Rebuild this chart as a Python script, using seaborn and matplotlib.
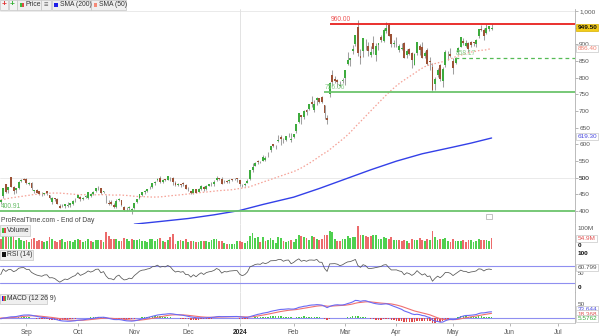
import numpy as np
import pandas as pd
import matplotlib
matplotlib.use("Agg")
import matplotlib.pyplot as plt
from matplotlib.patches import Rectangle
import seaborn as sns

sns.set_theme(style="white")
plt.rcParams['font.family'] = ['Liberation Sans', 'DejaVu Sans']

# ---------------- data ----------------
holidays = ["2023-09-04", "2023-11-23", "2023-12-25", "2024-01-01",
            "2024-01-15", "2024-02-19", "2024-03-29", "2024-05-27",
            "2024-06-19", "2024-07-04"]

# closes before the visible window (indicator warm-up)
prior_closes = [374.75, 385.10, 387.70, 394.82, 410.22, 429.97, 426.53, 426.92,
                435.96, 415.70, 430.25, 422.48, 406.32, 418.76, 411.17, 408.22, 423.02,
                424.13, 423.02, 421.80, 425.03, 421.80, 424.04, 439.02, 459.77, 454.69,
                464.61, 474.94, 470.77, 455.20, 443.09, 446.12, 456.79, 454.52, 459.00,
                467.50, 467.29,
                465.07, 442.69, 445.15, 446.80, 454.17, 446.64, 425.54, 423.88, 408.55,
                437.53, 439.40, 434.86]

opens = [426.3, 444.9, 482.0, 463.1, 502.2, 473.2, 464.5, 469.6, 491.5, 497.6,
         497.6, 482.7, 484.3, 460.9, 462.4, 459.6, 449.2, 450.4, 460.3, 447.4, 427.5, 438.3, 436.0, 415.8, 415.6, 414.2, 415.4, 419.3, 421.0, 436.0,
         440.3, 441.0, 437.4, 441.4, 438.5, 446.3, 451.2, 461.4, 469.6, 470.0, 457.2, 440.0, 425.9, 428.1, 418.9, 412.5, 434.5, 432.0, 411.1, 407.5, 409.0, 404.2,
         408.8, 428.3, 440.2, 448.6, 458.0, 461.2, 469.2, 471.4, 484.2, 494.0, 500.0, 488.8, 495.0, 494.3, 500.6, 498.8, 484.7, 478.0, 481.8, 483.9, 479.4,
         465.3, 460.8, 454.0, 465.0, 458.8, 465.9, 472.2, 467.0, 476.7, 483.0, 481.9, 494.0, 500.3, 495.7, 489.2, 491.8, 489.7, 495.1, 496.4, 498.1,
         492.4, 474.9, 477.7, 484.6, 495.1, 524.5, 536.2, 549.2, 546.2, 550.2, 554.0, 571.7, 583.3, 600.3, 597.5, 609.5, 623.5, 609.6, 612.3, 627.5, 614.4,
         621.0, 639.7, 668.7, 688.0, 683.2, 704.0, 705.3, 726.0, 704.0, 732.0, 738.7, 741.0, 719.5, 680.1, 750.3, 807.9, 797.0, 793.8, 776.2, 790.9,
         800.0, 841.3, 852.7, 880.2, 901.6, 951.4, 864.3, 880.5, 910.5, 895.8, 869.3, 903.9, 867.0, 897.9, 923.0, 911.4, 939.4, 958.5, 931.1, 900.0,
         903.0, 884.5, 884.8, 904.1, 868.6, 887.0, 874.0, 839.2, 874.2, 896.1, 890.9, 864.3, 883.4, 849.7, 831.5, 781.0, 807.7, 839.5, 788.7, 838.2, 875.9, 872.4,
         850.8, 844.5, 877.9, 893.5, 910.4, 894.9, 904.7, 906.7, 905.6, 900.0, 925.5, 946.5, 943.0, 934.2, 945.0, 946.7]

highs = [437.8, 470.6, 482.4, 472.7, 502.7, 475.6, 468.9, 490.0, 496.0, 498.0,
         498.0, 487.4, 488.0, 464.8, 466.6, 460.6, 457.9, 455.7, 461.1, 447.6, 442.4, 439.7, 439.0, 421.0, 421.9, 422.8, 427.7, 425.6, 432.0, 438.0,
         448.5, 444.0, 442.6, 449.0, 458.5, 453.2, 460.5, 469.6, 476.1, 470.3, 461.6, 447.5, 432.2, 432.9, 424.7, 437.4, 439.3, 433.8, 414.6, 411.3, 415.8, 408.0,
         423.5, 435.3, 452.5, 458.1, 462.8, 467.5, 476.1, 483.9, 489.5, 499.9, 504.3, 496.0, 497.8, 505.5, 502.3, 502.7, 489.2, 485.8, 482.7, 487.7, 480.0,
         472.0, 461.5, 466.0, 467.5, 468.8, 477.4, 474.6, 477.6, 482.8, 486.7, 494.0, 504.3, 500.8, 501.6, 492.5, 493.8, 496.0, 496.8, 498.8, 499.0,
         492.9, 481.8, 485.0, 495.5, 522.8, 543.3, 546.0, 553.5, 549.7, 568.5, 566.2, 577.0, 595.5, 602.4, 599.2, 628.5, 627.2, 618.0, 624.9, 634.9, 634.9,
         631.6, 662.0, 694.0, 688.4, 702.2, 706.0, 721.9, 746.1, 734.5, 742.4, 739.8, 744.0, 719.6, 688.9, 785.8, 823.9, 806.5, 794.8, 789.3, 799.9,
         823.0, 876.9, 860.0, 897.2, 927.7, 974.0, 887.1, 919.6, 915.0, 906.5, 895.5, 924.0, 905.4, 904.0, 927.7, 947.8, 967.7, 963.8, 932.4, 913.0,
         922.3, 900.9, 903.1, 906.3, 884.8, 888.3, 876.0, 874.0, 907.4, 901.8, 906.3, 881.2, 887.8, 861.9, 843.2, 800.7, 827.7, 840.8, 833.2, 883.3, 879.9, 888.2,
         860.0, 863.4, 892.5, 922.0, 917.7, 913.7, 906.1, 910.3, 908.0, 915.0, 947.0, 958.2, 947.8, 960.2, 955.5, 960.0]

lows = [421.7, 439.3, 453.3, 453.6, 471.6, 452.2, 453.3, 467.6, 487.0, 492.7,
        481.6, 478.6, 464.9, 453.0, 453.8, 447.2, 446.3, 449.0, 449.1, 435.0, 420.0, 430.0, 422.2, 409.8, 412.0, 410.8, 413.1, 413.6, 419.6, 427.2,
        438.4, 429.6, 433.9, 438.1, 435.0, 443.8, 448.2, 458.3, 463.0, 451.5, 453.4, 424.8, 418.8, 418.6, 410.8, 409.8, 429.2, 415.2, 399.8, 400.0, 404.8, 392.3,
        405.7, 424.3, 436.3, 445.9, 452.6, 457.3, 465.5, 469.4, 479.4, 489.0, 485.3, 485.5, 489.0, 493.0, 491.5, 478.0, 476.1, 475.0, 471.9, 476.3, 465.9,
        461.9, 451.9, 450.9, 454.9, 458.0, 464.8, 460.0, 462.5, 474.3, 474.6, 476.3, 491.1, 492.0, 481.1, 484.0, 484.7, 485.5, 490.9, 494.1, 487.5,
        475.9, 473.2, 475.1, 483.0, 494.8, 516.9, 534.9, 540.5, 543.3, 549.4, 550.3, 561.8, 578.6, 592.1, 587.6, 608.5, 599.3, 605.4, 609.4, 622.6, 607.0,
        620.0, 634.5, 663.8, 660.4, 676.6, 688.5, 702.1, 712.5, 696.2, 719.4, 724.0, 725.0, 677.3, 662.5, 742.2, 775.7, 785.0, 771.6, 771.3, 783.5,
        779.1, 837.5, 834.2, 870.1, 896.0, 865.1, 841.7, 861.5, 884.2, 866.0, 863.0, 870.5, 850.1, 882.4, 906.0, 908.3, 935.0, 925.0, 891.2, 891.9,
        892.0, 876.3, 884.0, 858.9, 859.3, 867.3, 830.2, 837.1, 869.3, 868.8, 859.3, 859.5, 839.5, 824.0, 756.1, 764.0, 802.9, 791.6, 771.8, 833.0, 852.7, 863.0,
        812.1, 842.1, 870.3, 893.1, 898.8, 893.0, 875.7, 891.4, 896.0, 893.0, 918.1, 939.0, 913.3, 931.4, 938.8, 944.0]

closes = [433.0, 469.7, 456.7, 471.2, 471.6, 460.2, 468.4, 487.8, 492.6, 493.6,
          485.1, 485.5, 470.6, 462.4, 455.7, 451.8, 448.7, 454.9, 455.8, 439.0, 439.7, 435.2, 422.4, 410.2, 416.1, 422.2, 419.1, 424.7, 430.9, 435.0,
          447.8, 435.2, 440.4, 446.9, 457.6, 452.7, 458.0, 468.1, 469.5, 454.6, 461.0, 439.4, 422.0, 421.0, 413.9, 429.8, 436.6, 417.8, 403.3, 405.0, 411.6, 407.8,
          423.3, 435.1, 450.1, 457.5, 459.6, 465.7, 469.5, 483.4, 486.2, 496.6, 488.9, 494.8, 493.0, 504.1, 499.4, 487.2, 477.8, 482.4, 478.2, 481.4, 467.7,
          467.7, 455.1, 465.7, 455.0, 466.0, 475.1, 466.3, 476.6, 480.9, 483.5, 488.9, 500.8, 496.0, 481.1, 489.9, 488.3, 492.8, 494.2, 495.2, 495.2,
          481.7, 475.7, 480.0, 491.0, 522.5, 531.4, 543.5, 548.2, 547.1, 563.8, 560.5, 571.1, 594.9, 596.5, 598.7, 613.6, 616.2, 610.3, 624.7, 627.7, 615.3,
          630.3, 661.6, 693.3, 682.2, 701.0, 696.4, 721.3, 722.5, 721.3, 739.0, 726.6, 726.1, 694.5, 674.7, 785.4, 788.2, 790.9, 787.0, 776.6, 791.1,
          822.8, 852.4, 859.6, 887.0, 926.7, 875.3, 857.7, 919.1, 908.9, 879.4, 878.4, 884.6, 894.0, 903.7, 914.4, 942.9, 950.0, 925.6, 902.5, 903.6,
          903.6, 894.5, 889.6, 859.1, 880.1, 871.3, 853.5, 870.4, 906.2, 881.9, 860.0, 874.2, 840.4, 846.7, 762.0, 795.2, 824.2, 796.8, 826.3, 877.4, 877.6, 864.0,
          830.4, 858.2, 887.9, 921.4, 905.5, 904.1, 887.5, 898.8, 904.0, 913.6, 946.3, 943.6, 924.8, 947.8, 953.9, 949.5]

volumes_m = [49.6, 69.2, 70.0, 60.6, 103.0, 80.8, 45.0, 55.4, 44.7, 39.9,
             42.0, 34.3, 48.9, 51.9, 40.9, 44.0, 37.4, 32.7, 38.1, 57.6, 50.0, 37.3, 36.7, 44.9, 47.7, 35.1, 39.4, 38.5, 32.6, 43.5,
             48.1, 42.0, 35.7, 38.7, 46.8, 38.0, 36.3, 43.5, 43.2, 46.1, 35.8, 81.2, 62.7, 50.1, 47.6, 48.3, 41.1, 40.7, 55.4, 49.8, 38.9, 51.3,
             43.7, 42.8, 50.7, 40.7, 39.5, 33.9, 49.8, 50.0, 38.7, 49.5, 52.7, 39.4, 34.3, 43.2, 57.5, 72.0, 24.5, 39.6, 42.8, 38.2, 48.4,
             36.6, 41.4, 37.2, 36.4, 35.8, 38.9, 39.8, 39.3, 35.6, 43.4, 49.0, 49.1, 37.6, 39.1, 31.0, 25.2, 24.4, 23.7, 24.7, 38.9,
             41.1, 32.1, 30.7, 41.1, 64.3, 77.3, 53.4, 59.7, 35.3, 57.0, 39.1, 42.3, 53.0, 43.5, 31.5, 56.8, 53.5, 37.4, 34.9, 41.1, 45.7,
             36.6, 48.4, 69.0, 65.7, 56.9, 52.2, 44.1, 61.4, 60.3, 50.5, 42.0, 49.4, 70.5, 69.0, 86.5, 82.9, 50.4, 39.2, 39.3, 50.7,
             47.7, 61.6, 52.1, 58.3, 60.8, 113.3, 67.8, 66.8, 63.6, 60.2, 64.0, 66.9, 67.2, 47.9, 49.0, 58.5, 55.2, 51.1, 58.6, 43.5,
             45.2, 43.3, 37.0, 43.5, 39.9, 28.3, 50.4, 43.3, 43.3, 52.0, 44.3, 37.0, 49.5, 44.7, 87.2, 59.6, 43.9, 51.2, 50.6, 55.1, 38.5, 36.6,
             47.6, 39.5, 39.7, 38.6, 42.8, 32.0, 44.6, 43.9, 33.0, 37.5, 48.5, 45.3, 44.4, 44.5, 40.6, 54.9]

# 200-day average, read at a few dates
sma200_dates = ["2023-11-01", "2023-11-15", "2023-12-01", "2023-12-15", "2024-01-02",
                "2024-01-16", "2024-02-01", "2024-02-15", "2024-03-01", "2024-03-15",
                "2024-04-01", "2024-04-15", "2024-05-01", "2024-05-10", "2024-05-22"]
sma200_values = [361, 369, 378, 389, 402, 420, 442, 468, 496, 524, 550, 572, 592, 604, 619.30]

month_labels = ["Sep", "Oct", "Nov", "Dec", "2024", "Feb", "Mar", "Apr", "May", "Jun", "Jul"]

# horizontal levels drawn on the price panel
level_resist = 960.00
level_support = 756.06
level_mid = 858.17
level_floor = 400.0
level_floor_label = "400.91"

# ---------------- derived series ----------------
sessions = pd.bdate_range("2023-08-18", "2024-07-31")
sessions = sessions[~sessions.isin(pd.to_datetime(holidays))]
n = len(closes)
idx = np.arange(n)

o = np.array(opens); h = np.array(highs); l = np.array(lows); c = np.array(closes)
v = np.array(volumes_m)

all_close = pd.Series(prior_closes + closes)
k = len(prior_closes)
sma50 = all_close.rolling(50).mean().values[k:]

delta = all_close.diff()
gain = delta.clip(lower=0).ewm(alpha=1 / 14, adjust=False).mean()
loss = (-delta.clip(upper=0)).ewm(alpha=1 / 14, adjust=False).mean()
rsi = (100 - 100 / (1 + gain / loss)).values[k:]

ema12 = all_close.ewm(span=12, adjust=False).mean()
ema26 = all_close.ewm(span=26, adjust=False).mean()
macd = (ema12 - ema26)
signal = macd.ewm(span=9, adjust=False).mean()
hist = (macd - signal).values[k:]
macd = macd.values[k:]
signal = signal.values[k:]

date_pos = {d: i for i, d in enumerate(sessions)}
sma200_x = [date_pos[pd.Timestamp(d)] for d in sma200_dates]

month_pos = []
seen = set()
for i, d in enumerate(sessions):
    key = (d.year, d.month)
    if key not in seen:
        seen.add(key)
        if i > 0:
            month_pos.append(i)
month_pos = month_pos[:len(month_labels)]

# ---------------- figure / layout ----------------
W, H = 600, 336
fig = plt.figure(figsize=(W / 100, H / 100), dpi=100)
fig.patch.set_facecolor("white")

PX = 2.57                # pixels per session
X0 = 10 - 26.4 / PX      # session index at left edge
X_RIGHT = 575
XMAX = X0 + X_RIGHT / PX


def add_panel(top, bottom):
    return fig.add_axes([0, 1 - bottom / H, X_RIGHT / W, (bottom - top) / H])


ax_p = add_panel(9, 223.5)
ax_v = add_panel(223.5, 249.5)
ax_r = add_panel(249.5, 292)
ax_m = add_panel(292, 323)

GRID = "#d8d8d8"
TICKC = "#555555"
for ax in (ax_p, ax_v, ax_r, ax_m):
    ax.set_facecolor("white")
    ax.set_xlim(X0, XMAX)
    for s in ("left", "top"):
        ax.spines[s].set_visible(False)
    ax.spines["right"].set_color("#b0b0b0")
    ax.spines["right"].set_linewidth(0.6)
    ax.spines["bottom"].set_color("#c8c8c8")
    ax.spines["bottom"].set_linewidth(0.6)
    ax.grid(False)
    ax.axvline(month_pos[4], color=GRID, lw=0.5, zorder=0)
    ax.yaxis.tick_right()
    ax.tick_params(axis="y", labelsize=4.6, length=2, width=0.5, color="#999999",
                   labelcolor=TICKC, pad=1, right=True, left=False)
    ax.tick_params(axis="x", bottom=False, labelbottom=False)

# ---------------- price panel ----------------
ax_p.set_ylim(363, 1006)
for lvl in (500, 1000):
    ax_p.axhline(lvl, color="#e2e2e2", lw=0.5, zorder=0)
up = c >= o
UPC, DNC = "#3dab3d", "#9c5236"
ax_p.vlines(idx, l, h, color="#a0a0a0", lw=0.75, zorder=2)
ax_p.bar(idx[up], np.maximum(c[up] - o[up], 0.8), bottom=o[up], width=0.74,
         color=UPC, lw=0, zorder=3)
ax_p.bar(idx[~up], np.maximum(o[~up] - c[~up], 0.8), bottom=c[~up], width=0.74,
         color=DNC, lw=0, zorder=3)

sns.lineplot(x=idx, y=sma50, ax=ax_p, color="#f5a196", lw=0.9,
             linestyle=(0, (1.2, 1.6)), zorder=2)
sns.lineplot(x=sma200_x, y=sma200_values, ax=ax_p, color="#3340e8", lw=1.0, zorder=2)

ax_p.hlines(level_resist, X0 + 330 / PX, XMAX, color="#e8201e", lw=1.3, zorder=4)
ax_p.hlines(level_support, X0 + 324 / PX, XMAX, color="#6cc46c", lw=1.3, zorder=4)
ax_p.hlines(level_mid, X0 + 455 / PX, XMAX, color="#55bb55", lw=0.9,
            linestyles=(0, (3, 2.5)), zorder=4)
ax_p.hlines(level_floor, X0, XMAX, color="#6cc46c", lw=1.3, zorder=4)

ax_p.text(X0 + 331 / PX, level_resist + 3, f"{level_resist:.2f}", color="#ee5555",
          fontsize=4.8, va="bottom", ha="left")
ax_p.text(X0 + 325 / PX, level_support + 3, f"{level_support:.2f}", color="#88cc88",
          fontsize=4.8, va="bottom", ha="left")
ax_p.text(X0 + 456 / PX, level_mid + 3, f"{level_mid:.2f}", color="#88cc88",
          fontsize=4.8, va="bottom", ha="left")
ax_p.text(X0 + 1 / PX, level_floor + 3, level_floor_label, color="#66bb66",
          fontsize=4.8, va="bottom", ha="left")

price_ticks = list(range(400, 1001, 50))
ax_p.set_yticks(price_ticks)
ax_p.set_yticklabels([f"{t:,}" if t != 950 else "" for t in price_ticks])
for t in ax_p.get_yticklabels():
    if t.get_text() == "500":
        t.set_color("#111111")
ax_p.text(0.001, -0.004, "ProRealTime.com - End of Day", transform=ax_p.transAxes,
          fontsize=4.9, color="#444444", ha="left", va="bottom")
ax_p.add_patch(Rectangle((X0 + 486 / PX, 375), 5.5 / PX, 17, fc="white", ec="#aaaaaa",
                         lw=0.5, zorder=5))

# ---------------- volume panel ----------------
ax_v.set_ylim(-2.5, 125)
prev = np.concatenate([[prior_closes[-1]], c[:-1]])
vol_up = c >= prev
ax_v.bar(idx[vol_up], v[vol_up], width=0.7, color="#4fd04f", lw=0)
ax_v.bar(idx[~vol_up], v[~vol_up], width=0.7, color="#ec6b6b", lw=0)
ax_v.set_yticks([])

# ---------------- RSI panel ----------------
ax_r.set_ylim(9.4, 106.6)
ax_r.axhline(70, color="#8f8ff0", lw=0.8)
ax_r.axhline(30, color="#8f8ff0", lw=0.8)
sns.lineplot(x=idx, y=rsi, ax=ax_r, color="#555555", lw=0.55)
ax_r.set_yticks([])

# ---------------- MACD panel ----------------
ax_m.set_ylim(-16.7, 96)
ax_m.axhline(0, color="#8f8ff0", lw=0.8, zorder=1)
hpos = hist >= 0
ax_m.bar(idx[hpos], hist[hpos], width=0.55, color="#44cc44", lw=0, zorder=2)
ax_m.bar(idx[~hpos], hist[~hpos], width=0.55, color="#e04848", lw=0, zorder=2)
sns.lineplot(x=idx, y=signal, ax=ax_m, color="#f07070", lw=0.8, zorder=3)
sns.lineplot(x=idx, y=macd, ax=ax_m, color="#6a6af5", lw=0.8, zorder=3)
ax_m.set_yticks([])
ax_m.set_xticks(month_pos)
ax_m.set_xticklabels(month_labels)
ax_m.tick_params(axis="x", bottom=True, labelbottom=True, labelsize=4.8, length=2,
                 width=0.5, color="#999999", labelcolor=TICKC, pad=2)
ax_m.get_xticklabels()[4].set_fontweight("bold")
ax_m.get_xticklabels()[4].set_color("#222222")

for ax in (ax_p, ax_v, ax_r, ax_m):
    ax.set_xlabel("")
    ax.set_ylabel("")
    leg = ax.get_legend()
    if leg:
        leg.remove()


# ---------------- labels drawn in figure pixels ----------------
def ftext(x, y, s, **kw):
    kw.setdefault("fontsize", 4.6)
    kw.setdefault("va", "center")
    kw.setdefault("ha", "left")
    return fig.text(x / W, 1 - y / H, s, **kw)


def tag(x, y, s, color, fc="white", ec="#c8c8c8", weight="normal"):
    ftext(x, y, s, color=color, fontweight=weight, zorder=10,
          bbox=dict(boxstyle="square,pad=0.18", fc=fc, ec=ec, lw=0.5))


tag(577.5, 27.5, "949.50", "#111111", fc="#f2cc1a", ec="#d8b000", weight="bold")
tag(577.5, 48.5, "886.40", "#f08070")
tag(577.5, 136.7, "619.30", "#4848e0")

ftext(577.5, 229, "100M", color=TICKC)
tag(577.5, 238.5, "54.9M", "#e05050")
ftext(577.5, 245.5, "0", color="#111111", fontweight="bold")
ftext(577.5, 253.5, "100", color="#111111", fontweight="bold")
ftext(577.5, 273.6, "50", color=TICKC, fontsize=4.2)
tag(577.5, 267.3, "60.799", "#555555")
ftext(577.5, 287.3, "0", color="#111111", fontweight="bold")
ftext(577.5, 305, "50", color=TICKC)
tag(577.5, 309.7, "33.644", "#5050e0")
tag(577.5, 314.0, "18.368", "#e05050")
tag(577.5, 318.2, "5.5762", "#3aaa3a")


# legend chips
def chip(x0, x1, y0, y1, fc="#efefef", ec="#c4c4c4"):
    fig.patches.append(Rectangle((x0 / W, 1 - y1 / H), (x1 - x0) / W, (y1 - y0) / H,
                                 transform=fig.transFigure, fc=fc, ec=ec, lw=0.5,
                                 zorder=6))


def swatch(x, y, colors):
    wdt = 4.0 / len(colors)
    for j, col in enumerate(colors):
        fig.patches.append(Rectangle(((x + j * wdt) / W, 1 - (y + 2.2) / H), wdt / W,
                                     4.4 / H, transform=fig.transFigure, fc=col,
                                     lw=0, zorder=7))


# top strip
chip(0.3, 7.5, 0.3, 9.6, fc="#f3f3f3")
chip(8.5, 16.5, 0.3, 9.6, fc="#f3f3f3")
ftext(1.3, 4.9, "+", color="#e03030", fontsize=6, fontweight="bold", zorder=8)
ftext(9.6, 4.9, "+", color="#30b030", fontsize=6, fontweight="bold", zorder=8)
chip(17.3, 40.7, 0.3, 9.6)
swatch(19.5, 5, ["#3cba3c", "#e04a4a"])
ftext(25, 5, "Price", color="#333333", fontsize=4.9, zorder=8)
chip(41.2, 50.7, 0.3, 9.6)
ftext(43.2, 5, "\u2261", color="#666666", fontsize=5.5, zorder=8)
chip(51.7, 90.7, 0.3, 9.6)
swatch(54, 5, ["#2020e8"])
ftext(59.5, 5, "SMA (200)", color="#333333", fontsize=4.9, zorder=8)
chip(91.3, 126, 0.3, 9.6)
swatch(93.5, 5, ["#f58a78"])
ftext(99, 5, "SMA (50)", color="#333333", fontsize=4.9, zorder=8)

# panel chips
chip(0.3, 29.5, 225, 236)
swatch(2, 230.5, ["#3cba3c", "#e04a4a"])
ftext(7.2, 230.5, "Volume", color="#333333", fontsize=4.9, zorder=8)
chip(0.3, 33, 250, 259.5)
swatch(2, 254.7, ["#111111"])
ftext(7.2, 254.7, "RSI (14)", color="#333333", fontsize=4.9, zorder=8)
chip(0.3, 46.5, 293.5, 303.5)
swatch(2, 298.5, ["#2020e8", "#e04a4a", "#3cba3c"])
ftext(7.2, 298.5, "MACD (12 26 9)", color="#333333", fontsize=4.9, zorder=8)

fig.savefig("out.png", dpi=100, facecolor="white")
